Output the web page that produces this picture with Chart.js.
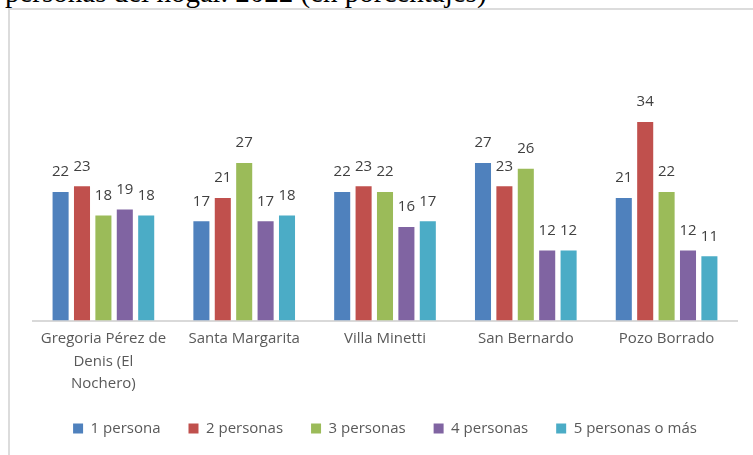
<!DOCTYPE html>
<html>
<head>
<meta charset="utf-8">
<script src="https://cdn.jsdelivr.net/npm/chart.js@4"></script>
<style>
  html, body { margin: 0; padding: 0; background: #fff; overflow: hidden; }
  body { width: 753px; height: 455px; position: relative; }
  .caption {
    position: absolute; left: 5px; top: -22.5px; white-space: nowrap;
    font-family: "Liberation Serif", "Times New Roman", serif;
    font-size: 29px; line-height: 29px; color: #000;
  }
  .frame {
    position: absolute; left: 8px; top: 8px; width: 800px; height: 500px;
    border: 2px solid #dcdcdc; box-sizing: border-box;
  }
  #chart { position: absolute; left: 0; top: 0; }
</style>
</head>
<body>
<div class="caption">personas del hogar. 2022 (en porcentajes)</div>
<div class="frame"></div>
<canvas id="chart" width="753" height="455"></canvas>
<script>
// localities (x axis)
const categories = [
  ['Gregoria Pérez de', 'Denis (El', 'Nochero)'],
  'Santa Margarita',
  'Villa Minetti',
  'San Bernardo',
  'Pozo Borrado'
];

// household size series, in %
const seriesNames = ['1 persona', '2 personas', '3 personas', '4 personas', '5 personas o más'];
const onePerson    = [22, 17, 22, 27, 21];
const twoPersons   = [23, 21, 23, 23, 34];
const threePersons = [18, 27, 22, 26, 22];
const fourPersons  = [19, 17, 16, 12, 12];
const fivePlus     = [18, 18, 17, 12, 11];

const colors = ['#4F81BD', '#C0504D', '#9BBB59', '#8064A2', '#4BACC6'];
const FONT = '"Open Sans", "DejaVu Sans", sans-serif';

// draws the number above every bar (no datalabels plugin here)
const valueLabels = {
  id: 'valueLabels',
  afterDatasetsDraw(chart) {
    const ctx = chart.ctx;
    ctx.save();
    ctx.font = '15px ' + FONT;
    ctx.fillStyle = '#404040';
    ctx.textAlign = 'center';
    ctx.textBaseline = 'middle';
    chart.data.datasets.forEach((ds, i) => {
      chart.getDatasetMeta(i).data.forEach((bar, j) => {
        ctx.fillText(String(ds.data[j]), bar.x, bar.y - 20);
      });
    });
    ctx.restore();
  }
};

// legend padding is used both between items and above them, so pull it up a bit
const legendNudge = {
  id: 'legendNudge',
  afterLayout(chart) {
    if (chart.legend) {
      chart.legend.top -= 9;
      chart.legend.bottom -= 9;
    }
  }
};

const seriesData = [onePerson, twoPersons, threePersons, fourPersons, fivePlus];

new Chart(document.getElementById('chart'), {
  type: 'bar',
  data: {
    labels: categories,
    datasets: seriesData.map((d, i) => ({
      label: seriesNames[i],
      data: d,
      backgroundColor: colors[i],
      borderWidth: 0,
      categoryPercentage: 0.76,
      barPercentage: 0.75
    }))
  },
  options: {
    responsive: false,
    animation: false,
    layout: { padding: { left: 33, right: 16, top: 87, bottom: 0 } },
    scales: {
      x: {
        grid: { display: false, drawTicks: false },
        border: { display: true, color: '#d9d9d9', width: 2 },
        ticks: {
          color: '#595959',
          font: { family: FONT, size: 15, lineHeight: 1.5 },
          padding: 7,
          maxRotation: 0,
          autoSkip: false
        }
      },
      y: {
        display: false,
        min: 0,
        max: 40
      }
    },
    plugins: {
      legend: {
        position: 'bottom',
        labels: {
          boxWidth: 10,
          boxHeight: 10,
          padding: 28,
          color: '#595959',
          font: { family: FONT, size: 15 }
        }
      },
      tooltip: { enabled: false }
    }
  },
  plugins: [valueLabels, legendNudge]
});
</script>
</body>
</html>
